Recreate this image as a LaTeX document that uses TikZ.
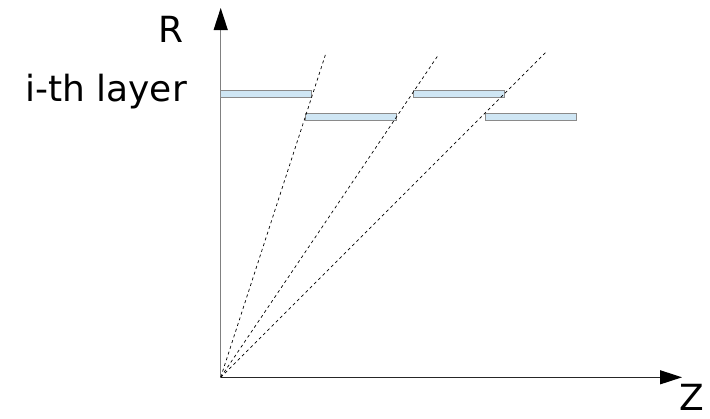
\documentclass[tikz,border=0pt]{standalone}
\usepackage{fontspec}
\setmainfont{DejaVu Sans}
\usetikzlibrary{arrows.meta}
\definecolor{layerblue}{HTML}{CFE6F4}
\definecolor{layeredge}{HTML}{8A8A8A}
\definecolor{axisgray}{HTML}{808080}

\begin{document}
\begin{tikzpicture}[x=1pt,y=-1pt,
      layer/.style={rectangle,draw=layeredge,fill=layerblue,minimum width=91pt,
                    minimum height=7pt,inner sep=0pt,line width=0.8pt},
      ray/.style={dash pattern=on 3pt off 3pt,line width=0.7pt},
      axis/.style={-{Triangle[length=22pt,width=14pt,color=black]},line width=1.2pt},
      lbl/.style={font=\fontsize{36}{38}\selectfont,inner sep=0pt}]
    \useasboundingbox (0,0) rectangle (710,418);
    % axes
    \coordinate (o)    at (220.7,377.3);
    \coordinate (rtop) at (220.7,8);
    \coordinate (ztip) at (682,377.3);
    \draw[axis,axisgray] (o) -- (rtop);
    \draw[axis,black!85] (o) -- (ztip);
    \node[lbl] (rlabel)   at (171,29)  {R};
    \node[lbl] (zlabel)   at (692,397) {Z};
    \node[lbl] (laylabel) at (106,92)  {i-th layer};
    % layers
    \node[layer] (lay1) at (266.2,94.2)  {};
    \node[layer] (lay2) at (351.0,116.7) {};
    \node[layer] (lay3) at (458.8,93.9)  {};
    \node[layer] (lay4) at (530.8,116.7) {};
    % rays from the origin
    \coordinate (ray1) at (326,53);
    \coordinate (ray2) at (438.3,55);
    \coordinate (ray3) at (546,52);
    \draw[ray] (o) -- (ray1);
    \draw[ray] (o) -- (ray2);
    \draw[ray] (o) -- (ray3);
\end{tikzpicture}
\end{document}
